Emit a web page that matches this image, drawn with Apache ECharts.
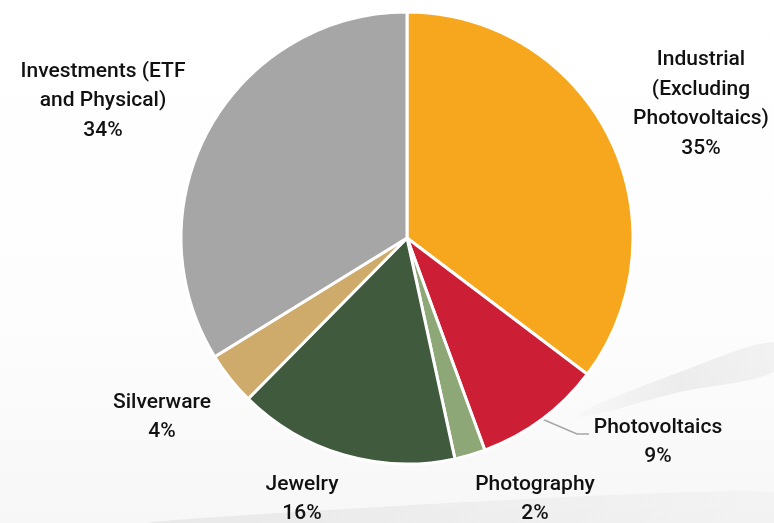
<!DOCTYPE html>
<html>
<head>
<meta charset="utf-8">
<script src="https://cdn.jsdelivr.net/npm/echarts@6/dist/echarts.min.js"></script>
<style>
html,body{margin:0;padding:0;background:#fff;}
#chart{width:774px;height:523px;}
</style>
</head>
<body>
<div id="chart"></div>
<script>
const categories = ['Industrial\n(Excluding\nPhotovoltaics)', 'Photovoltaics', 'Photography', 'Jewelry', 'Silverware', 'Investments (ETF\nand Physical)'];
const values = [35.3, 9.1, 2.2, 15.8, 3.8, 33.8];
const colors = ['#F7A71E', '#CC1F36', '#8DA777', '#3F5A3C', '#CFAB6B', '#A6A6A6'];

// label anchor positions (layout only)
const labelPos = [[701, 104], [658, 442], [535, 499], [302, 499], [162, 417], [103, 101]];

const chart = echarts.init(document.getElementById('chart'));
const data = categories.map((c, i) => ({
  name: c, value: values[i], itemStyle: { color: colors[i] },
  labelLine: { show: i === 1, lineStyle: { color: '#A6A6A6', width: 1.5 } }
}));

chart.setOption({
  backgroundColor: {
    type: 'linear', x: 0, y: 0, x2: 0, y2: 1, colorStops: [
      { offset: 0, color: '#ffffff' },
      { offset: 0.6, color: '#fdfdfd' },
      { offset: 1, color: '#f7f7f7' }]
  },
  animation: false,
  graphic: [
    {
      type: 'polygon', z: -10, silent: true,
      shape: { points: [[580, 412], [680, 372], [774, 342], [774, 372], [680, 392], [580, 418]], smooth: 0.3 },
      style: { fill: { type: 'linear', x: 0, y: 0, x2: 1, y2: 0, colorStops: [
        { offset: 0, color: 'rgba(0,0,0,0.01)' },
        { offset: 0.5, color: 'rgba(0,0,0,0.06)' },
        { offset: 1, color: 'rgba(0,0,0,0.04)' }] } }
    },
    {
      type: 'polygon', z: -10, silent: true,
      shape: { points: [[150, 523], [450, 503], [774, 492], [774, 523]], smooth: 0.2 },
      style: { fill: { type: 'linear', x: 0, y: 0, x2: 1, y2: 0, colorStops: [
        { offset: 0, color: 'rgba(0,0,0,0.06)' },
        { offset: 0.6, color: 'rgba(0,0,0,0.035)' },
        { offset: 1, color: 'rgba(0,0,0,0.02)' }] } }
    }
  ],
  series: [{
    type: 'pie',
    center: [407, 238],
    radius: [0, 226],
    startAngle: 90,
    clockwise: true,
    data: data,
    itemStyle: { borderColor: '#ffffff', borderWidth: 3 },
    label: {
      show: true,
      position: 'outside',
      formatter: p => p.name + '\n' + Math.round(p.percent) + '%',
      fontFamily: 'Roboto',
      fontSize: 21,
      fontWeight: 500,
      lineHeight: 29.5,
      color: '#111111',
      align: 'center',
      overflow: 'none',
      width: 300
    },
    labelLine: { show: false },
    labelLayout: function (params) {
      const i = params.dataIndex;
      const res = { x: labelPos[i][0], y: labelPos[i][1], align: 'center', verticalAlign: 'middle' };
      if (i === 1) {
        res.labelLinePoints = [[542, 419], [577, 434], [589, 434]];
      }
      return res;
    },
    emphasis: { disabled: true }
  }]
});
</script>
</body>
</html>
